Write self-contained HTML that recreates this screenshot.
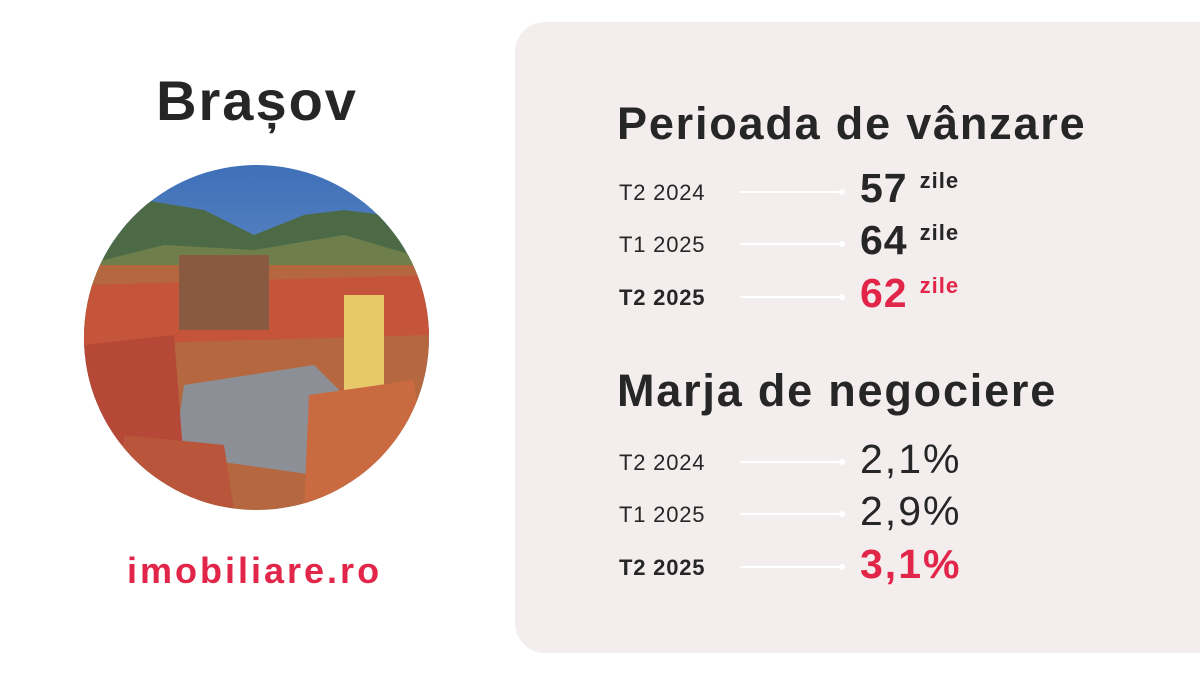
<!DOCTYPE html>
<html><head><meta charset="utf-8"><style>
body{margin:0;width:1200px;height:675px;background:#fff;position:relative;overflow:hidden;font-family:"Liberation Sans",sans-serif;color:#262626}
.a{position:absolute;white-space:nowrap}
.panel{position:absolute;left:515px;top:22px;width:720px;height:631px;background:#f4eded;border-radius:30px}
.h{font-weight:bold;font-size:45px;left:617px;letter-spacing:1.8px}
.l{font-size:22px;left:619px;letter-spacing:0.8px}
.ln{position:absolute;left:740px;width:102px;height:2px;background:#fff}
.ln:after{content:"";position:absolute;right:-3px;top:-2px;width:6px;height:6px;border-radius:50%;background:#fff}
.n{left:860px;font-size:41px;font-weight:bold;letter-spacing:1px}
.z{font-size:22px;font-weight:bold;vertical-align:14px;margin-left:12px;letter-spacing:1px}
.p{left:860px;font-size:41px;letter-spacing:2px}
.r{color:#e2264a}
</style></head><body>
<div class="a" style="left:0;width:514px;text-align:center;top:68px;font-size:56px;font-weight:bold;letter-spacing:2px">Brașov</div>
<svg class="a" style="left:84px;top:165px" width="345" height="345" viewBox="0 0 345 345">
<defs><clipPath id="c"><circle cx="172.5" cy="172.5" r="172.5"/></clipPath>
<linearGradient id="s" x1="0" y1="0" x2="0" y2="1"><stop offset="0" stop-color="#3e6fb8"/><stop offset="1" stop-color="#9bb7d8"/></linearGradient></defs>
<g clip-path="url(#c)">
<rect width="345" height="345" fill="url(#s)"/>
<path d="M0 80 L60 35 L120 45 L170 70 L220 50 L260 45 L300 50 L345 70 L345 130 L0 130Z" fill="#4c6a45"/>
<path d="M0 100 L80 80 L170 85 L260 70 L345 95 L345 150 L0 150Z" fill="#6f7f4c"/>
<rect y="100" width="345" height="245" fill="#b5673f"/>
<path d="M0 120 L345 110 L345 170 L0 180Z" fill="#c4553a"/>
<rect x="95" y="90" width="90" height="75" fill="#8a5a40"/>
<path d="M100 220 L230 200 L300 270 L230 310 L90 290Z" fill="#8d8f96"/>
<rect x="260" y="130" width="40" height="130" fill="#e8c96a"/>
<path d="M225 230 L330 215 L345 345 L220 345Z" fill="#c96a40"/>
<path d="M0 180 L90 170 L100 300 L0 320Z" fill="#b54836"/>
<path d="M40 270 L140 280 L150 345 L30 345Z" fill="#b8553a"/>
</g></svg>
<div class="a r" style="left:127px;top:550px;font-size:36px;font-weight:bold;letter-spacing:3px">imobiliare.ro</div>
<div class="panel"></div>
<div class="a h" style="top:98px">Perioada de vânzare</div>
<div class="a l" style="top:180px">T2 2024</div><div class="ln" style="top:191px"></div>
<div class="a n" style="top:165px">57<span class="z">zile</span></div>
<div class="a l" style="top:232px">T1 2025</div><div class="ln" style="top:243px"></div>
<div class="a n" style="top:217px">64<span class="z">zile</span></div>
<div class="a l" style="top:285px;font-weight:bold">T2 2025</div><div class="ln" style="top:296px"></div>
<div class="a n r" style="top:270px">62<span class="z">zile</span></div>
<div class="a h" style="top:365px">Marja de negociere</div>
<div class="a l" style="top:450px">T2 2024</div><div class="ln" style="top:461px"></div>
<div class="a p" style="top:436px">2,1%</div>
<div class="a l" style="top:502px">T1 2025</div><div class="ln" style="top:513px"></div>
<div class="a p" style="top:488px">2,9%</div>
<div class="a l" style="top:555px;font-weight:bold">T2 2025</div><div class="ln" style="top:566px"></div>
<div class="a p r" style="top:541px;font-weight:bold">3,1%</div>
</body></html>
